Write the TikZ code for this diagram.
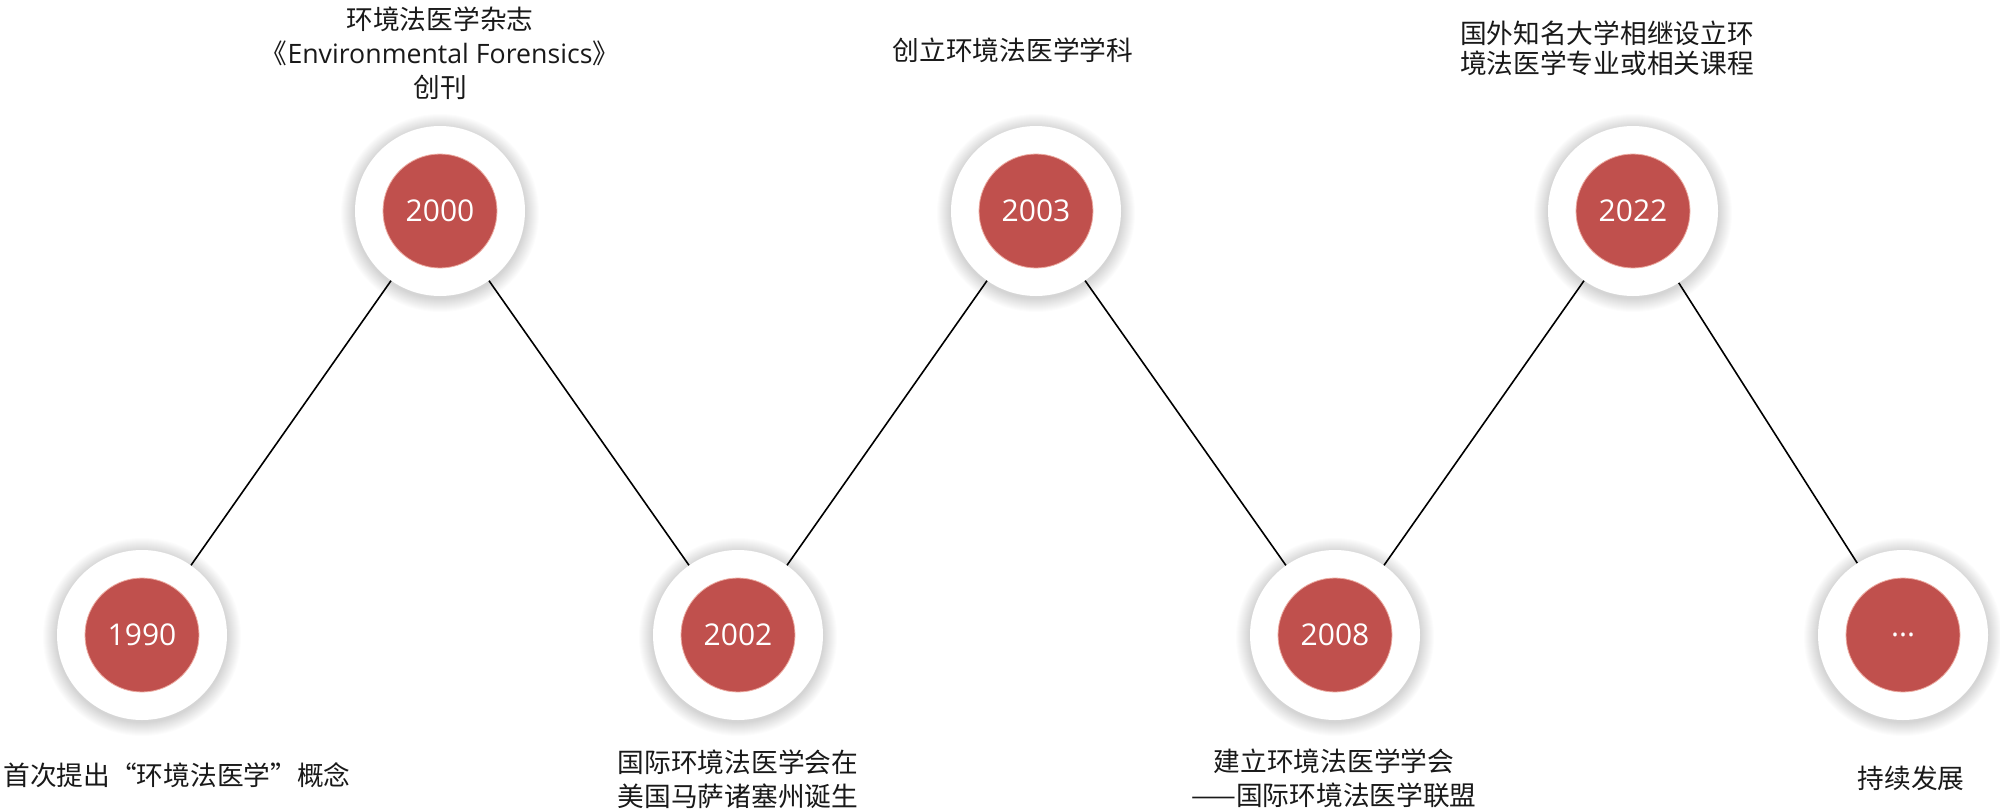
\documentclass[tikz,border=0pt]{standalone}
\usepackage{fontspec}
\setmainfont{Open Sans}
\newfontfamily\cjk{Noto Sans CJK SC}
\definecolor{dotred}{RGB}{192,80,77}
\definecolor{rimred}{RGB}{236,170,160}
\definecolor{labtext}{RGB}{25,25,25}
\begin{document}
\begin{tikzpicture}[x=1pt,y=-1pt,
  ring/.style={circle,fill=white,minimum size=170pt,inner sep=0pt},
  dot/.style={circle,fill=dotred,draw=rimred,line width=0.8pt,minimum size=114pt,inner sep=0pt,text=white,font=\fontsize{30}{36}\selectfont},
  lab/.style={align=center,font=\cjk\fontsize{26.7}{34}\selectfont,text=labtext,inner sep=0pt},
  link/.style={line width=1.6pt,black}]
\useasboundingbox (0,0) rectangle (2000,811);
\foreach \n/\px/\py in {a/142/635,b/440/211,c/738/635,d/1036/211,e/1335/635,f/1633/211,g/1903/635}{
  \foreach \r in {86,...,99} \fill[black,opacity=0.013] (\px,\py+2) circle[radius=\r pt];
  \node[ring] (o\n) at (\px,\py) {};
}
\node[dot] (ia) at (oa) {1990};
\node[dot] (ib) at (ob) {2000};
\node[dot] (ic) at (oc) {2002};
\node[dot] (id) at (od) {2003};
\node[dot] (ie) at (oe) {2008};
\node[dot] (if) at (of) {2022};
\node[dot] (ig) at (og) {...};
\draw[link] (oa) -- (ob);
\draw[link] (ob) -- (oc);
\draw[link] (oc) -- (od);
\draw[link] (od) -- (oe);
\draw[link] (oe) -- (of);
\draw[link] (of) -- (og);
\node[lab] (la) at (177,775) {首次提出“环境法医学”概念};
\node[lab] (lb) at (440,53) {环境法医学杂志\\《{\rmfamily Environmental Forensics}》\\创刊};
\node[lab] (lc) at (738,779) {国际环境法医学会在\\美国马萨诸塞州诞生};
\node[lab] (ld) at (1013,50) {创立环境法医学学科};
\node[lab] (le) at (1334,778) {建立环境法医学学会\\——国际环境法医学联盟};
\node[lab,font=\cjk\fontsize{26.7}{30}\selectfont] (lf) at (1607,48) {国外知名大学相继设立环\\境法医学专业或相关课程};
\node[lab] (lg) at (1911,778) {持续发展};
\end{tikzpicture}
\end{document}
